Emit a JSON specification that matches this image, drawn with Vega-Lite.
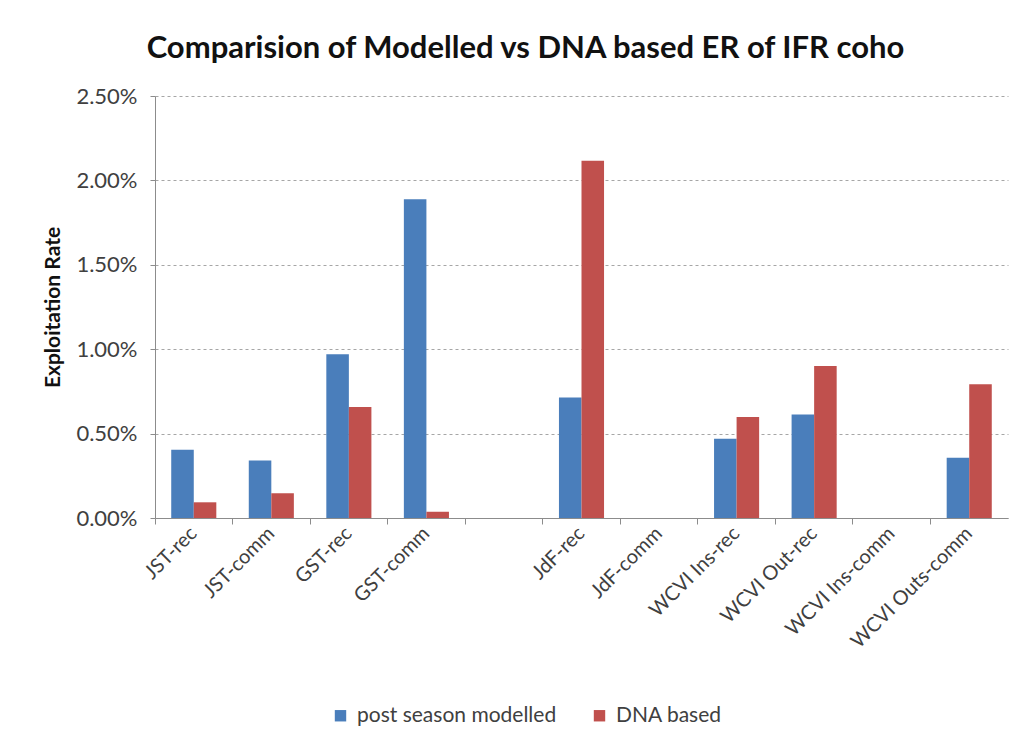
{
  "$schema": "https://vega.github.io/schema/vega-lite/v6.json",
  "width": 853,
  "height": 422,
  "autosize": {"type": "none"},
  "padding": {"left": 155, "top": 96, "right": 15, "bottom": 226},
  "background": "white",
  "title": {
    "text": "Comparision of Modelled vs DNA based ER of IFR coho",
    "font": "Lato",
    "fontSize": 31,
    "fontWeight": "bold",
    "color": "#111111",
    "anchor": "middle",
    "dx": -56,
    "dy": 49,
    "offset": 24
  },
  "config": {
    "view": {"stroke": null},
    "font": "Lato"
  },
  "data": {
    "values": [
      {"cat": "JST-rec", "series": "post season modelled", "er": 0.00405},
      {"cat": "JST-rec", "series": "DNA based", "er": 0.00093},
      {"cat": "JST-comm", "series": "post season modelled", "er": 0.00341},
      {"cat": "JST-comm", "series": "DNA based", "er": 0.00146},
      {"cat": "GST-rec", "series": "post season modelled", "er": 0.0097},
      {"cat": "GST-rec", "series": "DNA based", "er": 0.00658},
      {"cat": "GST-comm", "series": "post season modelled", "er": 0.01889},
      {"cat": "GST-comm", "series": "DNA based", "er": 0.00037},
      {"cat": "JdF-rec", "series": "post season modelled", "er": 0.00714},
      {"cat": "JdF-rec", "series": "DNA based", "er": 0.02117},
      {"cat": "WCVI Ins-rec", "series": "post season modelled", "er": 0.0047},
      {"cat": "WCVI Ins-rec", "series": "DNA based", "er": 0.00599},
      {"cat": "WCVI Out-rec", "series": "post season modelled", "er": 0.00613},
      {"cat": "WCVI Out-rec", "series": "DNA based", "er": 0.009},
      {"cat": "WCVI Outs-comm", "series": "post season modelled", "er": 0.00357},
      {"cat": "WCVI Outs-comm", "series": "DNA based", "er": 0.00792}
    ]
  },
  "layer": [
    {
      "mark": {"type": "bar"},
      "encoding": {
        "x": {
          "field": "cat",
          "type": "nominal",
          "scale": {
            "domain": ["JST-rec", "JST-comm", "GST-rec", "GST-comm", " ", "JdF-rec", "JdF-comm", "WCVI Ins-rec", "WCVI Out-rec", "WCVI Ins-comm", "WCVI Outs-comm"],
            "paddingInner": 0,
            "paddingOuter": 0
          },
          "axis": {
            "orient": "bottom",
            "title": null,
            "labelAngle": -45,
            "labelAlign": "right",
            "labelBaseline": "middle",
            "labelFontSize": 20,
            "labelColor": "#404040",
            "labelPadding": 12,
            "labelLimit": 300,
            "ticks": false,
            "domain": false,
            "grid": false
          }
        },
        "xOffset": {
          "field": "series",
          "type": "nominal",
          "sort": ["post season modelled", "DNA based"],
          "scale": {"paddingInner": 0, "paddingOuter": 0.72}
        },
        "y": {
          "field": "er",
          "type": "quantitative",
          "scale": {"domain": [0, 0.025], "nice": false},
          "axis": {
            "title": "Exploitation Rate",
            "titleFontSize": 21,
            "titleFontWeight": "bold",
            "titleColor": "#111111",
            "titlePadding": 12,
            "format": ".2%",
            "values": [0, 0.005, 0.01, 0.015, 0.02, 0.025],
            "labelFontSize": 22,
            "labelColor": "#404040",
            "labelPadding": 13,
            "tickSize": 5,
            "tickColor": "#8c8c8c",
            "domainColor": "#8c8c8c",
            "grid": true,
            "gridColor": "#a6a6a6",
            "gridDash": [3, 3]
          }
        },
        "color": {
          "field": "series",
          "type": "nominal",
          "sort": ["post season modelled", "DNA based"],
          "scale": {"domain": ["post season modelled", "DNA based"], "range": ["#4a7ebb", "#c0504d"]},
          "legend": {
            "title": null,
            "orient": "none",
            "direction": "horizontal",
            "legendX": 175,
            "legendY": 609,
            "symbolType": "square",
            "symbolSize": 130,
            "symbolStrokeWidth": 0,
            "labelFontSize": 21,
            "labelLimit": 400,
            "labelColor": "#404040",
            "columnPadding": 32,
            "labelOffset": 6
          }
        }
      }
    },
    {
      "mark": {"type": "bar", "opacity": 0},
      "encoding": {
        "x": {
          "field": "cat",
          "type": "nominal",
          "axis": {
            "orient": "bottom",
            "title": null,
            "labels": false,
            "bandPosition": 0,
            "ticks": true,
            "tickSize": 6,
            "tickColor": "#8c8c8c",
            "domainColor": "#8c8c8c",
            "grid": false
          }
        },
        "y": {"field": "er", "type": "quantitative"}
      }
    }
  ],
  "resolve": {"axis": {"x": "independent"}}
}
